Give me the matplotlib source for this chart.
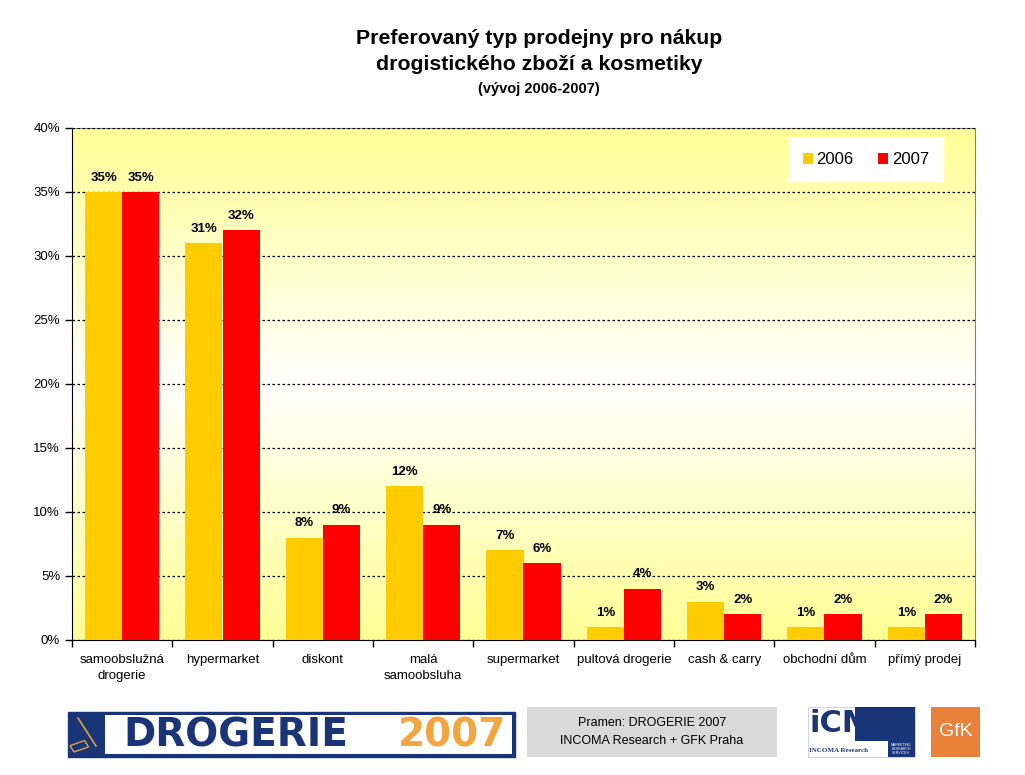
import numpy as np
import matplotlib
matplotlib.use("Agg")
import matplotlib.pyplot as plt
from matplotlib.patches import Rectangle
from matplotlib.ticker import MultipleLocator, PercentFormatter

categories = ["samoobslužná\ndrogerie", "hypermarket", "diskont", "malá\nsamoobsluha",
              "supermarket", "pultová drogerie", "cash & carry", "obchodní dům", "přímý prodej"]
v2006 = [35, 31, 8, 12, 7, 1, 3, 1, 1]
v2007 = [35, 32, 9, 9, 6, 4, 2, 2, 2]
series_names = ["2006", "2007"]
colors = ["#FFCC00", "#FF0000"]

plt.rcParams['font.family'] = ['Liberation Sans', 'DejaVu Sans']

fig = plt.figure(figsize=(10.25, 7.75), dpi=100)
fig.patch.set_facecolor("white")
ax = fig.add_axes([72/1025, 1-640/775, (975-72)/1025, (640-128)/775])

# gradient background: yellow at edges, white near middle
n = 256
t = np.linspace(0, 1, n)
w = np.clip(1 - np.abs(t - 0.5) / 0.5, 0, 1)  # 1 at middle
blue = 150 + (252 - 150) * w
img = np.zeros((n, 1, 3))
img[:, 0, 0] = 1.0
img[:, 0, 1] = 1.0
img[:, 0, 2] = blue / 255
ax.imshow(img, extent=[-0.5, len(categories) - 0.5, 0, 40], aspect='auto', zorder=0, origin='lower')

x = np.arange(len(categories))
bw = 0.37
ax.bar(x - bw/2, v2006, bw, color=colors[0], label=series_names[0], zorder=3)
ax.bar(x + bw/2, v2007, bw, color=colors[1], label=series_names[1], zorder=3)

lab_font = dict(fontsize=9.5, fontweight='bold', family=['Liberation Sans Narrow', 'Liberation Sans', 'DejaVu Sans'])
for xi, v in zip(x - bw/2, v2006):
    ax.annotate(f"{v}%", (xi, v), xytext=(0, 6), textcoords='offset points', ha='center', va='bottom', zorder=4, **lab_font)
for xi, v in zip(x + bw/2, v2007):
    ax.annotate(f"{v}%", (xi, v), xytext=(0, 6), textcoords='offset points', ha='center', va='bottom', zorder=4, **lab_font)

ax.set_xlim(-0.5, len(categories) - 0.5)
ax.set_ylim(0, 40)
ax.yaxis.set_major_locator(MultipleLocator(5))
ax.yaxis.set_major_formatter(PercentFormatter(decimals=0))
ax.grid(axis='y', color='black', linestyle=(0, (2, 2)), linewidth=0.9, zorder=1)
ax.set_axisbelow(False)

ax.set_xticks(np.arange(len(categories) + 1) - 0.5)
ax.set_xticklabels([])
ax.set_xticks(x, minor=True)
ax.set_xticklabels(categories, minor=True, fontsize=9.5, linespacing=1.5)
ax.tick_params(axis='x', which='minor', length=0, pad=10)
ax.tick_params(axis='x', which='major', length=5, direction='out', width=1)
ax.tick_params(axis='y', length=5, direction='out', labelsize=9.5, width=1)

ax.spines['left'].set_color('black')
ax.spines['bottom'].set_color('black')
ax.spines['top'].set_color('#808080')
ax.spines['right'].set_color('#808080')

leg = ax.legend(loc='upper right', bbox_to_anchor=(943/1025, 1-138/775), bbox_transform=fig.transFigure,
                ncol=2, frameon=True, fancybox=False, fontsize=12, handlelength=0.6, handleheight=0.6,
                handletextpad=0.2, columnspacing=1.5, borderpad=0.85, borderaxespad=0)
leg.get_frame().set_facecolor('white')
leg.get_frame().set_edgecolor('white')
leg.get_frame().set_alpha(1)

# title
fig.text(0.526, 1-38/775, "Preferovaný typ prodejny pro nákup", ha='center', va='center', fontsize=15.3, fontweight='bold')
fig.text(0.526, 1-65/775, "drogistického zboží a kosmetiky", ha='center', va='center', fontsize=15.3, fontweight='bold')
fig.text(0.526, 1-89/775, "(vývoj 2006-2007)", ha='center', va='center', fontsize=10.5, fontweight='bold')

# footer
def fx(px):
    return px / 1025
def fy(py):
    return 1 - py / 775

navy = "#1A3478"
fig.patches.append(Rectangle((fx(68), fy(757)), fx(515) - fx(68), fy(712) - fy(757), transform=fig.transFigure,
                             facecolor=navy, edgecolor=navy))
fig.patches.append(Rectangle((fx(105), fy(754)), fx(512) - fx(105), fy(715) - fy(754), transform=fig.transFigure,
                             facecolor='white', edgecolor='none'))
# small brush-like icon in the navy area
fig.patches.append(Rectangle((fx(74), fy(752)), fx(90) - fx(74), fy(745) - fy(752), transform=fig.transFigure,
                             facecolor='none', edgecolor='#E0A040', linewidth=1, angle=25))
fig.lines.append(plt.Line2D([fx(78), fx(96)], [fy(718), fy(746)], transform=fig.transFigure,
                            color='#E0A040', linewidth=1.2))
fig.text(fx(123), fy(735.5), "DROGERIE", ha='left', va='center', fontsize=28, fontweight='bold', color=navy,
         family=['DejaVu Sans'])
fig.text(fx(506), fy(735.5), "2007", ha='right', va='center', fontsize=28, fontweight='bold', color="#F4A540",
         family=['DejaVu Sans'])

fig.patches.append(Rectangle((fx(527), fy(757)), fx(777) - fx(527), fy(707) - fy(757), transform=fig.transFigure,
                             facecolor='#D9D9D9', edgecolor='none'))
fig.text(fx(652), fy(723), "Pramen: DROGERIE 2007", ha='center', va='center', fontsize=9)
fig.text(fx(652), fy(741), "INCOMA Research + GFK Praha", ha='center', va='center', fontsize=9)

fig.patches.append(Rectangle((fx(808), fy(757)), fx(915) - fx(808), fy(707) - fy(757), transform=fig.transFigure,
                             facecolor='white', edgecolor='#C8CCDD', linewidth=0.6))
fig.patches.append(Rectangle((fx(855), fy(741)), fx(915) - fx(855), fy(707) - fy(741), transform=fig.transFigure,
                             facecolor=navy, edgecolor='none'))
fig.patches.append(Rectangle((fx(888), fy(757)), fx(915) - fx(888), fy(741) - fy(757), transform=fig.transFigure,
                             facecolor=navy, edgecolor='none'))
fig.text(fx(810), fy(724), "iCM", ha='left', va='center', fontsize=22, fontweight='bold', color=navy,
         family=['DejaVu Sans'])
fig.text(fx(809), fy(751), "INCOMA Research", ha='left', va='center', fontsize=5,
         fontweight='bold', color=navy, family=['Liberation Serif', 'DejaVu Serif'])
fig.text(fx(901), fy(749), "MARKETING\nRESEARCH\nSERVICES", ha='center', va='center', fontsize=2.5,
         color='white', linespacing=1.1)

fig.patches.append(Rectangle((fx(931), fy(757)), fx(980) - fx(931), fy(707) - fy(757), transform=fig.transFigure,
                             facecolor='#E8823A', edgecolor='none'))
fig.text(fx(955.5), fy(732), "GfK", ha='center', va='center', fontsize=14, color='white')

fig.savefig("out.png", dpi=100)
